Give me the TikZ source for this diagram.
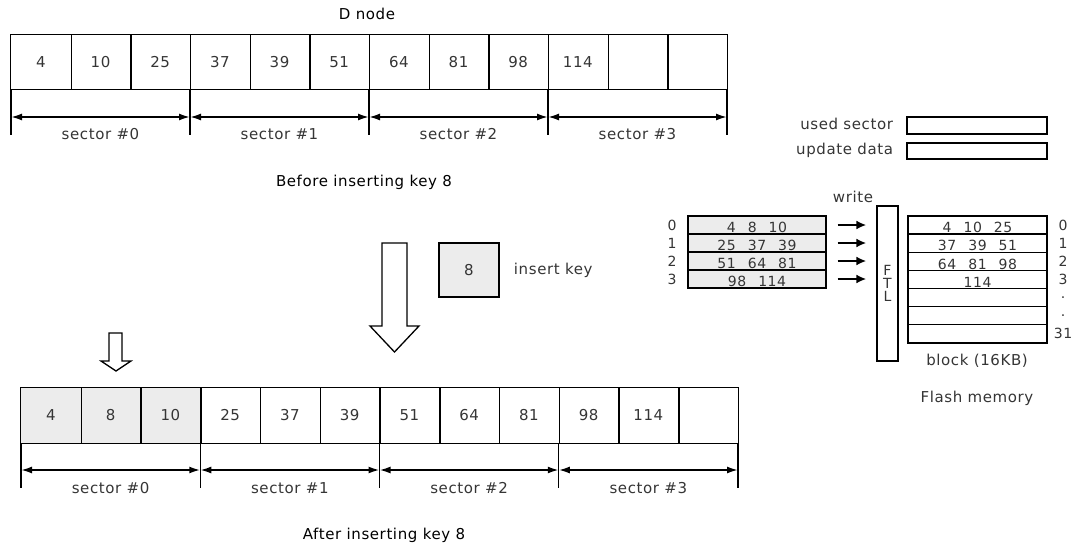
\documentclass[tikz,border=0pt]{standalone}
\usepackage{fontspec}
\setmainfont{DejaVu Sans}[LetterSpace=4]
\usetikzlibrary{arrows.meta}
\definecolor{txt}{HTML}{353535}
\definecolor{shade}{HTML}{ECECEC}
\newcommand{\bigtxt}{\fontsize{15}{17}\selectfont}
\newcommand{\smalltxt}{\fontsize{14}{16}\selectfont}
\newcommand{\numgap}{\hspace{12pt}}
\begin{document}
\begin{tikzpicture}[x=1pt,y=-1pt,
  line width=1.3pt,
  cell/.style={minimum width=59.7pt, minimum height=54pt, inner sep=0pt, font=\bigtxt, text=txt},
  dimline/.style={{Latex[length=11pt,width=7pt]}-{Latex[length=11pt,width=7pt]}, line width=1.8pt},
  extline/.style={line width=1.2pt},
  seclabel/.style={font=\bigtxt, text=txt},
  caption/.style={font=\bigtxt, text=black},
  rowbox/.style={draw, inner sep=0pt, minimum height=18pt, text height=15.5pt, text depth=0pt, font=\smalltxt, text=txt},
  idx/.style={font=\smalltxt, text=txt, inner sep=0pt},
  writearrow/.style={-{Latex[length=10pt,width=9pt]}, line width=2.2pt},
  hollow/.style={draw, line width=1.3pt, fill=white}
]
\useasboundingbox (0,0) rectangle (1074,546);

% ---------------- D node before the insertion ----------------
\node[caption] (dtitle) at (367,14) {D node};
\foreach \v [count=\i from 0] in {4,10,25,37,39,51,64,81,98,114,{},{}} {
  \node[cell] (a\i) at ({11+59.67*(\i+0.5)},62) {\v};
}
\draw (a0.north west) rectangle (a11.south east);
\foreach \i in {0,...,10} { \draw (a\i.north east) -- (a\i.south east); }
\foreach \s in {0,...,4} {
  \coordinate (ab\s) at ({11+179*\s},89);
  \coordinate (ae\s) at ({11+179*\s},135);
  \draw[extline] (ab\s) -- (ae\s);
}
\foreach \s [evaluate=\s as \n using int(\s+1)] in {0,...,3} {
  \draw[dimline] ([yshift=-28pt]ab\s) -- ([yshift=-28pt]ab\n);
  \node[seclabel] (as\s) at ({11+179*(\s+0.5)},134) {sector \#\s};
}
\node[caption] (before) at (364,182) {Before inserting key 8};

% ---------------- key to insert ----------------
\draw[hollow] (382,243) -- (407,243) -- (407,326) -- (419,326) -- (394.5,352)
  -- (370,326) -- (382,326) -- cycle;
\node[draw, fill=shade, minimum width=60pt, minimum height=54pt, inner sep=0pt,
  font=\bigtxt, text=txt] (key) at (469,270) {8};
\node[font=\bigtxt, text=txt, anchor=west] (keylabel) at (510,270) {insert key};
\draw[hollow] (109,333) -- (122,333) -- (122,361) -- (131,361) -- (116,371)
  -- (101,361) -- (109,361) -- cycle;

% ---------------- D node after the insertion ----------------
\foreach \v [count=\i from 0] in {4,8,10,25,37,39,51,64,81,98,114,{}} {
  \ifnum\i<3
    \node[cell, fill=shade, minimum height=55pt] (b\i) at ({21+59.75*(\i+0.5)},415.5) {\v};
  \else
    \node[cell, minimum height=55pt] (b\i) at ({21+59.75*(\i+0.5)},415.5) {\v};
  \fi
}
\draw (b0.north west) rectangle (b11.south east);
\foreach \i in {0,...,10} { \draw (b\i.north east) -- (b\i.south east); }
\foreach \s in {0,...,4} {
  \coordinate (bb\s) at ({21+179.25*\s},443);
  \coordinate (be\s) at ({21+179.25*\s},488);
  \draw[extline] (bb\s) -- (be\s);
}
\foreach \s [evaluate=\s as \n using int(\s+1)] in {0,...,3} {
  \draw[dimline] ([yshift=-27pt]bb\s) -- ([yshift=-27pt]bb\n);
  \node[seclabel] (bs\s) at ({21+179.25*(\s+0.5)},488) {sector \#\s};
}
\node[caption] (after) at (384,535) {After inserting key 8};

% ---------------- legend ----------------
\node[font=\bigtxt, text=txt, anchor=east] (usedlbl) at (897,124) {used sector};
\node[draw, minimum width=140pt, minimum height=17pt, inner sep=0pt] (usedbox) at (977,125.5) {};
\node[font=\bigtxt, text=txt, anchor=east] (updlbl) at (897,150) {update data};
\node[draw, minimum width=140pt, minimum height=16pt, inner sep=0pt] (updbox) at (977,151) {};

% ---------------- sectors written through the FTL ----------------
\node[font=\bigtxt, text=txt] (write) at (853,197) {write};
\foreach \t [count=\i from 0] in {4\numgap 8\numgap 10, 25\numgap 37\numgap 39, 51\numgap 64\numgap 81, 98\numgap 114} {
  \node[rowbox, fill=shade, minimum width=138pt] (l\i) at (757,{225+18*\i}) {\t};
  \node[idx] (li\i) at (672,{225+18*\i}) {\i};
}
\node[draw, minimum width=21pt, minimum height=155pt, inner sep=0pt, align=center,
  font=\smalltxt, text=txt] (ftl) at (887.5,283.5) {F\\[-3pt]T\\[-3pt]L};
\foreach \i in {0,...,3} {
  \draw[writearrow] ([xshift=11pt]l\i.east) -- ([xshift=-10pt]ftl.west |- l\i);
}

% ---------------- flash memory block ----------------
\foreach \t [count=\i from 0] in {4\numgap 10\numgap 25, 37\numgap 39\numgap 51, 64\numgap 81\numgap 98, 114, {}, {}, {}} {
  \node[rowbox, minimum width=139pt, minimum height=18.15pt] (r\i) at (977.5,{225+18.15*\i}) {\t};
}
\foreach \lab/\i in {0/0,1/1,2/2,3/3,./4,./5,31/6} {
  \node[idx] (ri\i) at (1063,{225+18.15*\i}) {\lab};
}
\node[font=\bigtxt, text=txt] (blk) at (977,361) {block (16KB)};
\node[font=\bigtxt, text=txt] (flash) at (977,398) {Flash memory};
\end{tikzpicture}
\end{document}
